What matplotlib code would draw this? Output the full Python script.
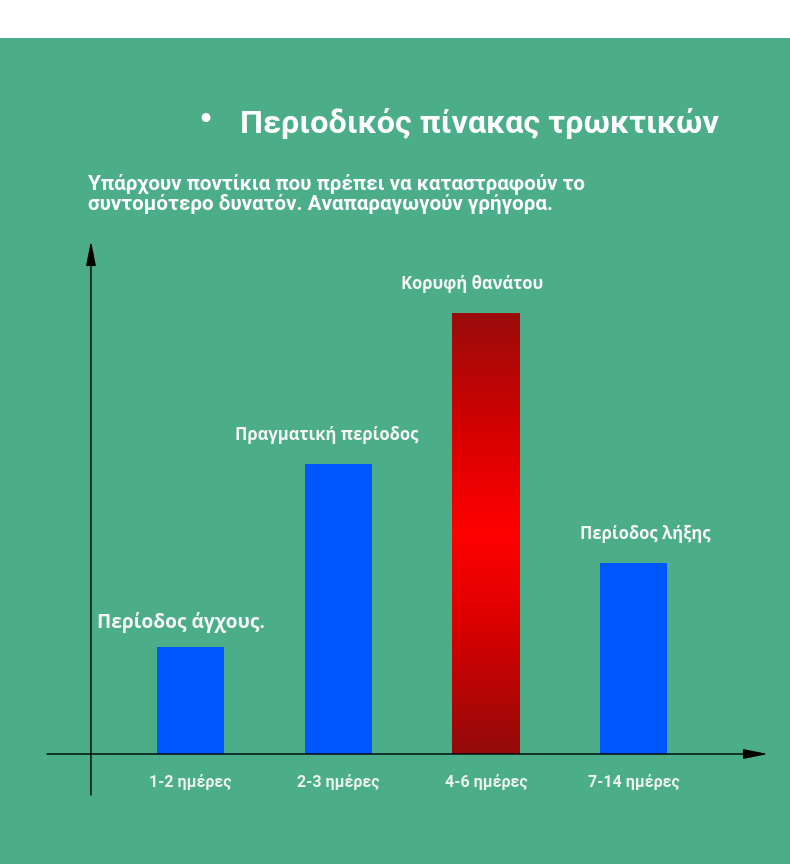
import matplotlib
matplotlib.use("Agg")
import matplotlib.pyplot as plt
import numpy as np
from matplotlib.colors import LinearSegmentedColormap

categories = ["1-2 ημέρες", "2-3 ημέρες", "4-6 ημέρες", "7-14 ημέρες"]
values = [107, 290, 441, 191]
bar_labels = ["Περίοδος άγχους.", "Πραγματική περίοδος", "Κορυφή θανάτου", "Περίοδος λήξης"]
title = "Περιοδικός πίνακας τρωκτικών"
subtitle = "Υπάρχουν ποντίκια που πρέπει να καταστραφούν το\nσυντομότερο δυνατόν. Αναπαραγωγούν γρήγορα."

BG = "#4bae88"
BLUE = "#0057ff"
TXT = "#f7f7f7"

fig = plt.figure(figsize=(7.9, 8.64), dpi=100)
fig.patch.set_facecolor("white")
# green panel below white strip
fig.patches.append(plt.Rectangle((0, 0), 1, (864 - 38) / 864, transform=fig.transFigure,
                                 facecolor=BG, edgecolor="none", zorder=-10))

ax = fig.add_axes([47 / 790, (864 - 795) / 864, (768 - 47) / 790, (795 - 241) / 864])
ax.set_zorder(5)
ax.set_facecolor("none")
ax.patch.set_alpha(0)
for s in ax.spines.values():
    s.set_visible(False)
ax.set_xticks([])
ax.set_yticks([])

x = np.arange(len(values))
colors = [BLUE, BLUE, "none", BLUE]
bars = ax.bar(x, values, width=0.454, color=colors, zorder=2)

# gradient for peak bar
cmap = LinearSegmentedColormap.from_list(
    "redgrad", [(0.0, "#930a0a"), (0.3, "#dc0000"), (0.5, "#ff0000"), (0.7, "#dc0000"), (1.0, "#9a0b0b")])
b = bars[2]
grad = np.linspace(0, 1, 256).reshape(-1, 1)
im = ax.imshow(grad, cmap=cmap, aspect="auto", origin="lower",
               extent=(b.get_x(), b.get_x() + b.get_width(), 0, b.get_height()), zorder=2)
im.set_clip_path(b)
ax.set_xlim(-0.9716, 3.910)
ax.set_ylim(-41, 513)

# axes with arrows
yaxis_x = -0.674
ax.annotate("", xy=(3.910, 0), xytext=(-0.9716, 0),
            arrowprops=dict(arrowstyle="-|>,head_length=1.5,head_width=0.3", color="black", lw=1.0,
                            shrinkA=0, shrinkB=0), zorder=3)
ax.annotate("", xy=(yaxis_x, 513), xytext=(yaxis_x, -41),
            arrowprops=dict(arrowstyle="-|>,head_length=1.5,head_width=0.3", color="black", lw=1.0,
                            shrinkA=0, shrinkB=0), zorder=3)

# category labels
for xi, c in zip(x, categories):
    ax.annotate(c, xy=(xi, 0), xytext=(0, -24), textcoords="offset points", ha="center", va="baseline",
                fontsize=11.5, fontweight="bold", color="#eef3ee", family="Roboto")

# bar labels
offsets = [-0.068, -0.08, -0.09, 0.08]
lift = [14, 17, 17, 17]
sizes = [13.8, 12, 12, 12]
for xi, v, lab, o, l, fs in zip(x, values, bar_labels, offsets, lift, sizes):
    ax.annotate(lab, xy=(xi + o, v), xytext=(0, l), textcoords="offset points", ha="center", va="baseline",
                fontsize=fs, fontweight="bold", color=TXT, family=["Open Sans", "DejaVu Sans"])

fig.text(205 / 790, 1 - 120 / 864, "•", fontsize=22, color="white", ha="center", va="center", family="DejaVu Sans")
fig.text(240 / 790, 1 - 133 / 864, title, fontsize=23.3, color="white", ha="left", va="baseline",
         family="Roboto", fontweight="bold")
fig.text(88 / 790, 1 - 210 / 864, subtitle, fontsize=14.9, color="white", ha="left", va="baseline",
         family="Roboto", fontweight="bold", linespacing=1.0)

fig.savefig("out.png", dpi=100, facecolor=fig.get_facecolor())
